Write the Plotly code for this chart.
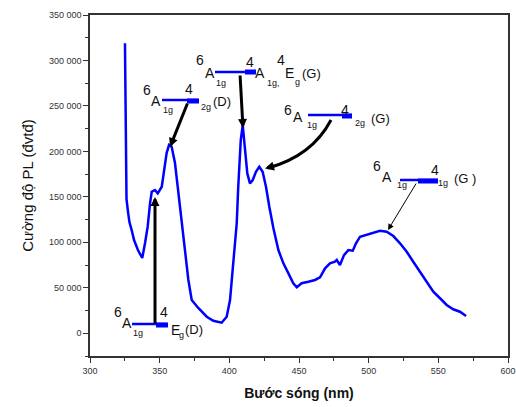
import plotly.graph_objects as go

# ---- data (wavelength nm, PL intensity a.u.) ----
wavelength = [325.1, 325.5, 326.2, 327.3, 328.3, 329.9, 331.6, 334.4, 337.5, 339.5,
              341.4, 343.1, 344.3, 346.6, 348.6, 351.5, 353.3, 355.0, 356.7, 358.6,
              361.0, 363.4, 365.8, 368.2, 370.6, 373.0, 377.7, 383.8, 388.5, 394.5,
              398.1, 400.5, 402.8, 405.3, 406.4, 408.2, 409.6, 411.2, 412.9, 414.8,
              416.8, 419.1, 421.5, 423.9, 426.3, 428.7, 431.6, 435.2, 438.8, 442.4,
              445.9, 448.4, 451.9, 456.7, 461.5, 465.1, 468.7, 472.2, 475.8, 477.1,
              479.4, 482.3, 485.4, 488.6, 490.9, 493.8, 497.4, 501.0, 505.8, 508.1,
              512.9, 517.7, 522.5, 527.3, 532.0, 536.8, 541.7, 546.4, 551.2, 556.0,
              560.7, 565.5, 569.9]
intensity = [319000, 216800, 147600, 133300, 122300, 113500, 102500, 91500, 82800, 99200,
             117200, 143200, 155600, 157500, 153900, 161100, 179500, 198200, 207000, 205100,
             187200, 154200, 124500, 95200, 58600, 36600, 27800, 18200, 13800, 11600,
             18200, 36600, 80600, 120900, 161100, 212400, 228900, 201400, 175800, 164800,
             168500, 177600, 183100, 177600, 161100, 139100, 115700, 91500, 76900, 65900,
             55000, 50600, 55000, 56700, 58600, 61500, 71400, 76900, 78700, 80600,
             75100, 86000, 91500, 90800, 98900, 106200, 108000, 109900, 111700, 112800,
             111700, 106900, 98900, 89700, 78700, 67700, 55000, 45700, 38500, 31100,
             26400, 23700, 19000]

x_ticks = [300, 350, 400, 450, 500, 550, 600]
y_ticks = [0, 50000, 100000, 150000, 200000, 250000, 300000, 350000]
y_ticktext = ["0", "50 000", "100 000", "150 000", "200 000", "250 000", "300 000", "350 000"]

x_title = "Bước sóng (nm)"
y_title = "Cường độ PL (đvtđ)"

# ---- layout geometry ----
W, H = 516, 407
L, R, T, B = 90, 8, 15, 51
XR = [300, 600]
YR = [-25000, 350000]


def dx(px):
    return XR[0] + (px - L) * (XR[1] - XR[0]) / (W - L - R)


def dy(py):
    return YR[0] + (H - B - py) * (YR[1] - YR[0]) / (H - T - B)


fig = go.Figure()
fig.add_trace(go.Scatter(x=wavelength, y=intensity, mode="lines",
                         line=dict(color="#0000ff", width=2.5), showlegend=False,
                         hoverinfo="skip"))

FONT = "Liberation Sans, Arial, sans-serif"
annotations = []
shapes = []


def label(px, py, text, size=14):
    annotations.append(dict(x=dx(px), y=dy(py), xref="x", yref="y", text=text,
                            showarrow=False, xanchor="center", yanchor="middle",
                            font=dict(family=FONT, size=size, color="#111111")))


def bline(px0, px1, py, width=2.5):
    shapes.append(dict(type="line", xref="x", yref="y", x0=dx(px0), x1=dx(px1),
                       y0=dy(py), y1=dy(py), line=dict(color="#0000ff", width=width),
                       layer="above"))


def arrow(tail, tip, width=3):
    annotations.append(dict(x=dx(tip[0]), y=dy(tip[1]), ax=dx(tail[0]), ay=dy(tail[1]),
                            xref="x", yref="y", axref="x", ayref="y", text="",
                            showarrow=True, arrowhead=2, arrowsize=0.6 if width > 2 else 1.2,
                            arrowwidth=width, arrowcolor="#000000", standoff=0))


# 6A1g -> 4Eg(D)
bline(132, 167, 324)
bline(156, 168, 325, 5)
arrow((155, 325), (155, 197))
label(118, 312, "6"); label(127, 323, "A"); label(138, 333, "1g", 9)
label(164, 312, "4"); label(175, 330, "E"); label(181, 335, "g", 9)
label(194, 329, "(D)", 13)

# 6A1g -> 4T2g(D)
bline(162, 198, 100)
bline(187, 199, 101, 5)
arrow((188, 102), (170, 147))
label(147, 90, "6"); label(156, 101, "A"); label(168, 110, "1g", 9)
label(189, 89, "4"); label(206, 107, "2g", 9); label(222, 101, "(D)", 13)

# 6A1g -> 4A1g,4Eg(G)
bline(215, 255, 72)
bline(245, 256, 72, 5)
arrow((240, 74), (243, 128))
label(200, 60, "6"); label(210, 73, "A"); label(221, 83, "1g", 9)
label(250, 62, "4"); label(260, 73, "A"); label(273, 83, "1g,", 9)
label(281, 60, "4"); label(289, 73, "E"); label(297, 82, "g", 9)
label(311, 73, "(G)", 13)

# 6A1g -> 4T2g(G)  (curved arrow)
bline(308, 352, 115)
bline(342, 352, 116, 5)
shapes.append(dict(type="path", xref="x", yref="y",
                   path=f"M {dx(331)},{dy(120)} Q {dx(312)},{dy(156)} {dx(268)},{dy(168)}",
                   line=dict(color="#000000", width=3), layer="above"))
arrow((276, 165.5), (265, 168.5))
label(288, 110, "6"); label(298, 117, "A"); label(312, 125, "1g", 9)
label(345, 110, "4"); label(360, 123, "2g", 9); label(380, 118, "(G)", 13)

# 6A1g -> 4T1g(G)
bline(400, 438, 180)
bline(418, 438, 181, 5)
arrow((417, 182), (388, 230), 1)
label(377, 166, "6"); label(387, 177, "A"); label(402, 185, "1g", 9)
label(435, 170, "4"); label(443, 183, "1g", 9); label(465, 178, "(G )", 13)

axis_common = dict(showline=True, linecolor="#333333", linewidth=1.5, mirror=True,
                   ticks="outside", ticklen=5, tickwidth=1.2, tickcolor="#333333",
                   showgrid=False, zeroline=False,
                   tickfont=dict(family=FONT, size=9, color="#333333"))

fig.update_xaxes(range=XR, tickvals=x_ticks, **axis_common,
                 minor=dict(dtick=25, ticks="outside", ticklen=3, tickcolor="#333333"),
                 title=dict(text=x_title, standoff=14,
                            font=dict(family=FONT, size=14, color="#111111", weight="bold")))
fig.update_yaxes(range=YR, tickvals=y_ticks, ticktext=y_ticktext, **axis_common,
                 minor=dict(tick0=0, dtick=25000, ticks="outside", ticklen=3, tickcolor="#333333"),
                 title=dict(text=y_title, standoff=12,
                            font=dict(family=FONT, size=15, color="#111111")))

fig.update_layout(width=W, height=H, margin=dict(l=L, r=R, t=T, b=B, autoexpand=False),
                  paper_bgcolor="white", plot_bgcolor="white",
                  annotations=annotations, shapes=shapes)

fig.write_html("out.html")
